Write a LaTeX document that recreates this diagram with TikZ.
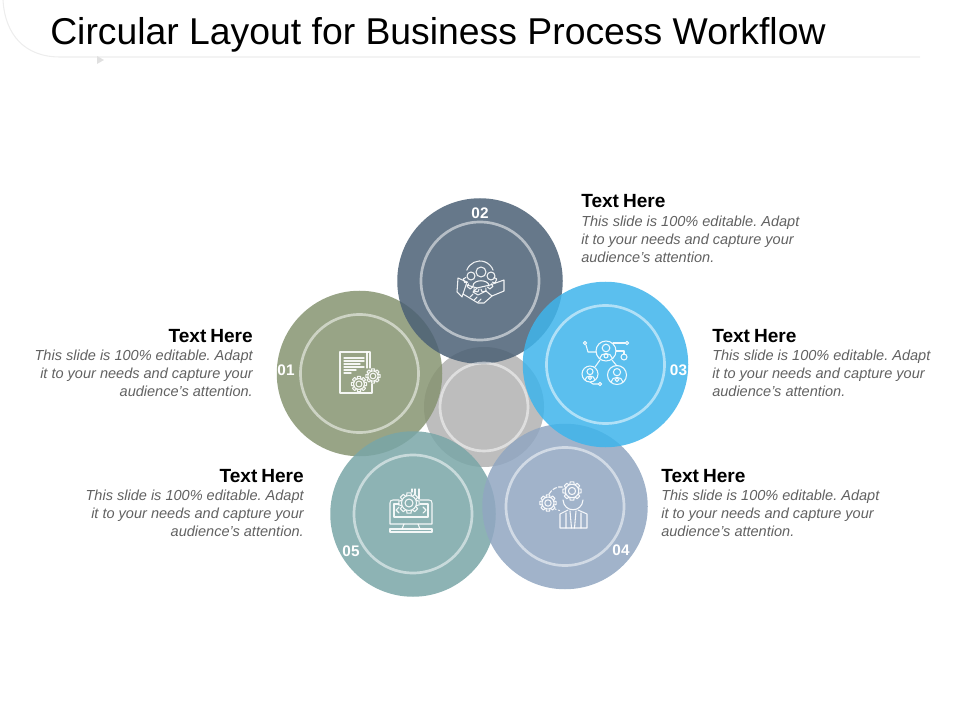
\documentclass[tikz,border=0pt]{standalone}
\usepackage{fontspec}
\setmainfont{Liberation Sans}
\usetikzlibrary{positioning}
\definecolor{olivec}{RGB}{134,148,113}
\definecolor{slatec}{RGB}{75,96,117}
\definecolor{skyc}{RGB}{62,180,235}
\definecolor{bluegc}{RGB}{144,166,193}
\definecolor{tealc}{RGB}{121,166,167}
\definecolor{greyc}{RGB}{177,177,177}
\newlength{\pxu}
\setlength{\pxu}{0.75pt}
\tikzset{
  disc/.style={circle, inner sep=0pt, minimum size=165.5\pxu, fill opacity=0.85},
  ring/.style={circle, inner sep=0pt, minimum size=118\pxu, draw=white, draw opacity=0.52, line width=2pt},
  num/.style={text=white, inner sep=0pt, font=\fontsize{11.5}{14}\selectfont\bfseries},
  head/.style={inner sep=0pt, font=\fontsize{14.3}{16}\selectfont\bfseries},
  body/.style={inner sep=0pt, text=black!62, font=\fontsize{10.9}{13.4}\selectfont\itshape},
  icon/.style={draw=white, draw opacity=0.9, line width=0.8pt, line join=round, line cap=round},
  pics/cog/.style={code={
    \draw[icon] (0,0) circle (#1*0.4);
    \draw[icon] (0,0) circle (#1*0.75);
    \foreach \a in {0,45,...,315}
      \draw[icon, rotate=\a] (#1*0.75,-#1*0.24) -- (#1*1.02,-#1*0.2) -- (#1*1.02,#1*0.2) -- (#1*0.75,#1*0.24);
  }},
  pics/person/.style={code={
    \draw[icon] (0,0) circle (#1);
    \draw[icon] (0,-#1*0.3) circle (#1*0.38);
    \draw[icon] (-#1*0.62,#1*0.72) .. controls (-#1*0.55,#1*0.1) and (#1*0.55,#1*0.1) .. (#1*0.62,#1*0.72);
    \draw[icon] (0,#1*0.5) circle (#1*0.2);
  }}
}
\begin{document}
\begin{tikzpicture}[x=0.75pt, y=-0.75pt]
  \useasboundingbox (0,0) rectangle (960,720);
  % header line
  \draw[black!7, line width=0.8pt] (3,0) .. controls (5,35) and (25,57) .. (60,57) -- (920,57);
  \fill[black!12] (97,56) -- (104,60) -- (97,64) -- cycle;
  \node[anchor=base west, inner sep=0pt, font=\fontsize{28}{30}\selectfont] (title) at (50,45) {Circular Layout for Business Process Workflow};

  % discs
  \node[disc, fill=greyc, minimum size=120\pxu] (disc0) at (484,407) {};
  \node[disc, fill=olivec] (disc1) at (359.5,373.5) {};
  \node[disc, fill=slatec] (disc2) at (480,281) {};
  \node[disc, fill=tealc] (disc5) at (413,514) {};
  \node[disc, fill=bluegc] (disc4) at (565,506.5) {};
  \node[disc, fill=skyc] (disc3) at (605.5,364.5) {};

  % rings
  \node[ring, minimum size=88\pxu] (ring0) at (disc0) {};
  \node[ring] (ring1) at (disc1) {};
  \node[ring] (ring2) at (disc2) {};
  \node[ring] (ring3) at (disc3) {};
  \node[ring] (ring4) at (disc4) {};
  \node[ring] (ring5) at (disc5) {};

  % numbers
  \node[num] (num1) at (286,370) {01};
  \node[num] (num2) at (480,213) {02};
  \node[num] (num3) at (678.5,370) {03};
  \node[num] (num4) at (621,550) {04};
  \node[num] (num5) at (351,551) {05};

  % icon 01
  \draw[icon] (370,368) -- (370,352) -- (340,352) -- (340,393) -- (372,393) -- (372,384);
  \draw[icon] (367,352) -- (367,368);
  \draw[icon, line width=1pt] (344,358) -- (364,358) (344,361) -- (364,361) (344,364) -- (360,364) (344,367) -- (364,367) (344,370) -- (356,370) (344,373) -- (351,373);
  \pic at (373,376) {cog=7};
  \pic at (359,384) {cog=7.5};

  % icon 02
  \draw[icon] (481,272) circle (5);
  \draw[icon] (471,276) circle (4) (491,276) circle (4);
  \draw[icon] (473,286) .. controls (473,279) and (489,279) .. (489,286);
  \draw[icon] (466.8,270.2) arc[start angle=200, end angle=340, radius=14];
  \foreach \a in {200,228,...,340}
    \draw[icon, shift={(480,275)}, rotate=\a] (14,-2.5) -- (17,-2) -- (17,2) -- (14,2.5);
  \draw[icon] (458,278) -- (467,282) -- (462,297) -- (457,292) -- cycle;
  \draw[icon] (467,285) -- (477,288) -- (490,285) -- (504,280) -- (504,291) -- (492,296) -- (484,303) -- (478,303) -- (463,294);
  \draw[icon] (477,288) -- (473,292) -- (478,295) -- (486,291) -- (492,296);
  \draw[icon] (470,297) -- (473,294) (474,300) -- (477,297) (478,302) -- (481,299);

  % icon 03
  \pic at (606,351) {person=10};
  \pic at (590,374) {person=8};
  \pic at (617,375) {person=9.5};
  \draw[icon] (600,360) -- (595,367) (612,360) -- (617,366);
  \draw[icon] (596,352) -- (588,352) -- (586,345);
  \draw[icon] (585,343) circle (1.7);
  \draw[icon] (613,343) -- (625,343);
  \draw[icon] (627,343) circle (1.7);
  \draw[icon] (616,351) -- (624,351) -- (624,354);
  \draw[icon] (624,357) circle (3);
  \draw[icon] (590,382) -- (593,384) -- (598,384);
  \draw[icon] (600,384) circle (1.7);

  % icon 04
  \pic at (572,491) {cog=9};
  \pic at (548,503) {cog=8};
  \draw[icon] (563,500) .. controls (564,513) and (582,513) .. (583,500);
  \draw[icon] (568,510) -- (560,514) -- (560,528) -- (587,528) -- (587,514) -- (578,510);
  \draw[icon] (570,511) -- (571.5,528) (576,511) -- (574.5,528) (566,513) -- (566,528) (581,513) -- (581,528);
  \draw[icon, dash pattern=on 3pt off 1.5pt] (549,494) .. controls (552,489) and (557,486) .. (563,487);
  \draw[icon, dotted] (555,509) -- (561,511);

  % icon 05
  \draw[icon] (399,500) -- (393,500) .. controls (391,500) and (390,501) .. (390,503) -- (390,524) -- (432,524) -- (432,503) .. controls (432,501) and (431,500) .. (429,500) -- (420,500);
  \draw[icon] (399,504) -- (394,504) -- (394,517) -- (428,517) -- (428,504) -- (420,504);
  \draw[icon] (404,524) -- (402,529) (418,524) -- (420,529);
  \draw[icon] (390,529) -- (432,529) -- (432,532) -- (390,532) -- cycle;
  \pic at (409,503) {cog=10};
  \draw[icon] (412,492) -- (412,489) (415,494) -- (415,489) (419,499) -- (419,489);
  \draw[icon] (399,507) -- (396,510) -- (399,513) (423,507) -- (426,510) -- (423,513);

  % labels
  \node[head, anchor=base east] (head1) at (253,342) {Text\hspace{-1pt} Here};
  \node[body, align=right, anchor=north east] (body1) at (253,350) {This slide is 100\% editable.\ Adapt\\it to your needs and capture your\\audience's attention.};
  \node[head, anchor=base west] (head2) at (581,208) {Text\hspace{-1pt} Here};
  \node[body, align=left, anchor=north west] (body2) at (581,216) {This slide is 100\% editable.\ Adapt\\it to your needs and capture your\\audience's attention.};
  \node[head, anchor=base west] (head3) at (712,342) {Text\hspace{-1pt} Here};
  \node[body, align=left, anchor=north west] (body3) at (712,350) {This slide is 100\% editable.\ Adapt\\it to your needs and capture your\\audience's attention.};
  \node[head, anchor=base west] (head4) at (661,482) {Text\hspace{-1pt} Here};
  \node[body, align=left, anchor=north west] (body4) at (661,490) {This slide is 100\% editable.\ Adapt\\it to your needs and capture your\\audience's attention.};
  \node[head, anchor=base east] (head5) at (304,482) {Text\hspace{-1pt} Here};
  \node[body, align=right, anchor=north east] (body5) at (304,490) {This slide is 100\% editable.\ Adapt\\it to your needs and capture your\\audience's attention.};
\end{tikzpicture}
\end{document}
